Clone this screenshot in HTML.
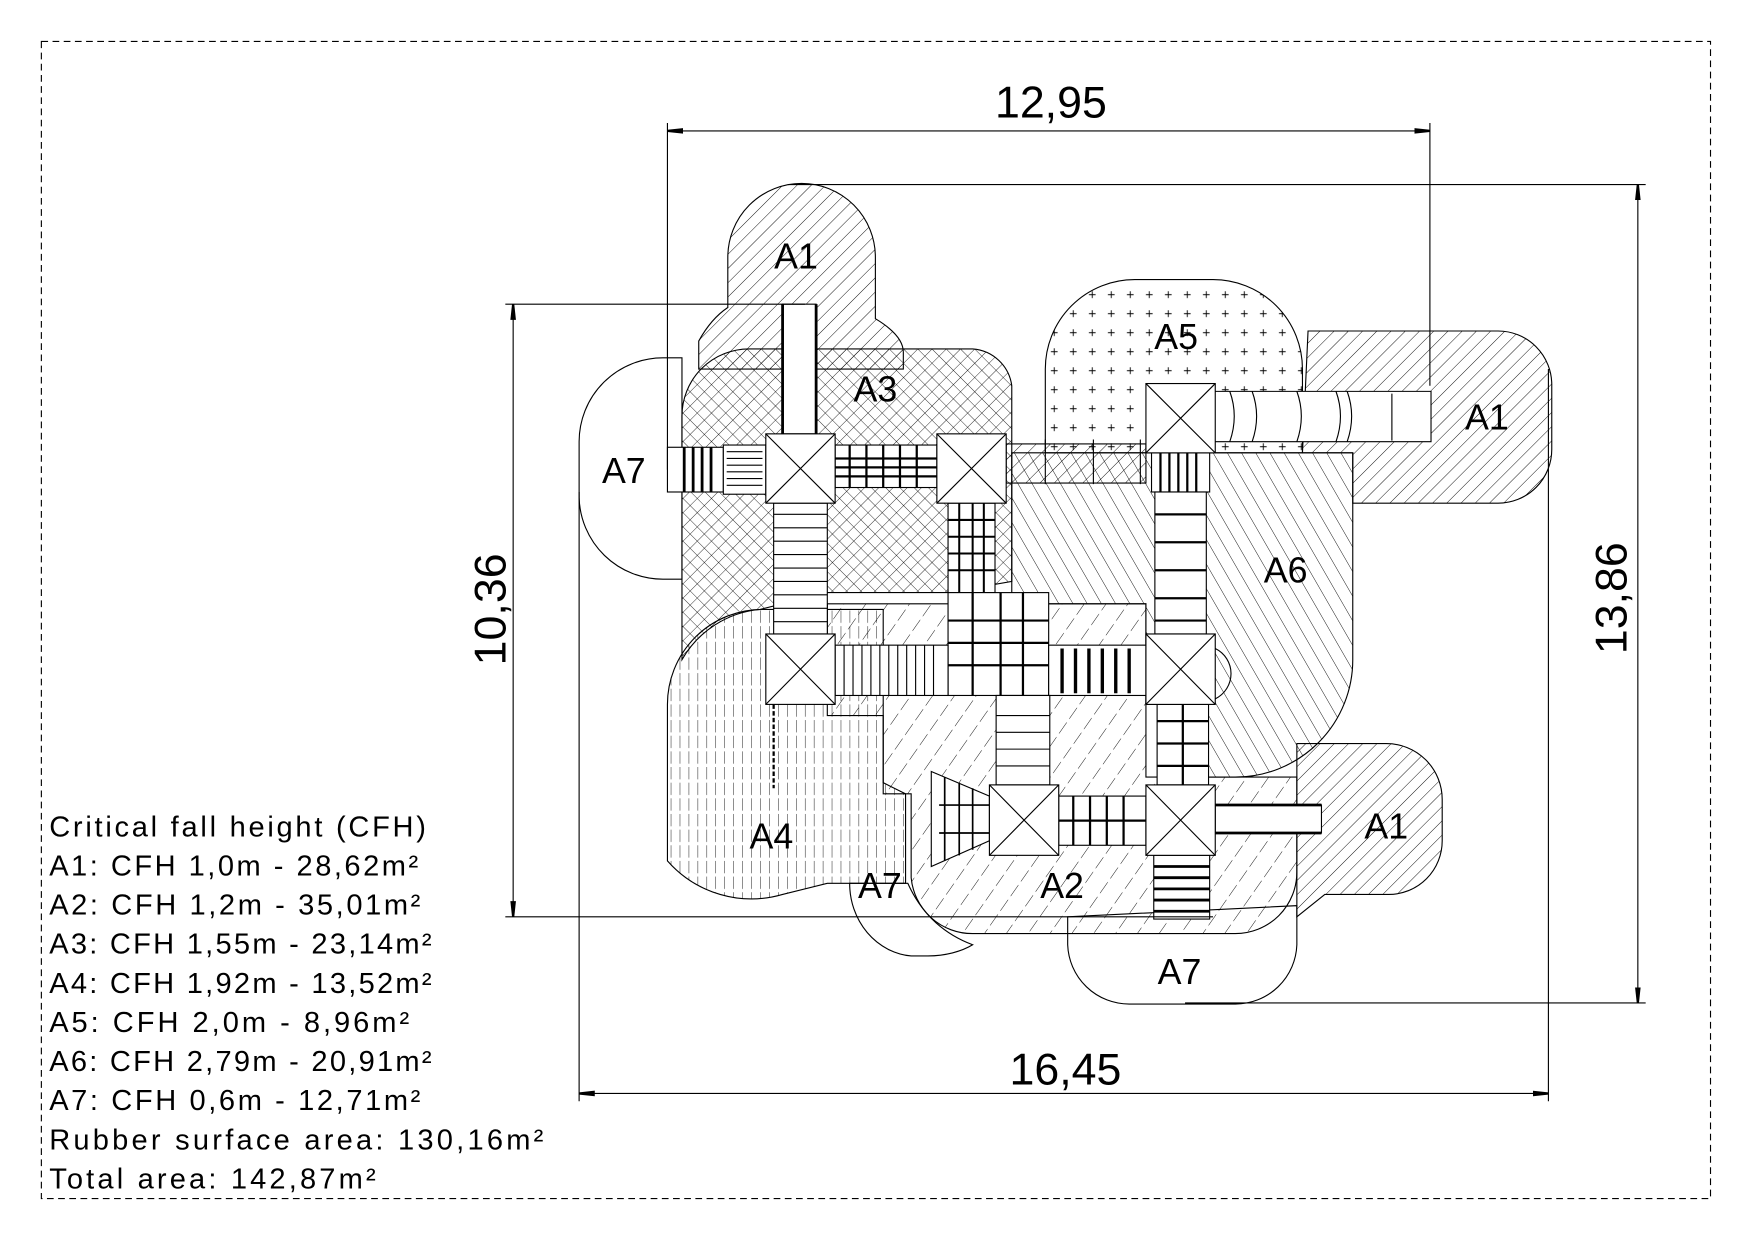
<!DOCTYPE html>
<html><head><meta charset="utf-8"><style>
html,body{margin:0;padding:0;background:#fff}
svg{display:block}
text{font-family:"Liberation Sans",sans-serif;fill:#000}
</style></head><body>
<svg width="1753" height="1240" viewBox="0 0 1568 1109" xmlns="http://www.w3.org/2000/svg">
<defs>
<pattern id="h1" width="9" height="9" patternUnits="userSpaceOnUse" patternTransform="rotate(45)"><line x1="0" y1="0" x2="0" y2="9" stroke="#000" stroke-width="0.8"/></pattern>
<pattern id="h6" width="11" height="11" patternUnits="userSpaceOnUse" patternTransform="rotate(-30)"><line x1="0" y1="0" x2="0" y2="11" stroke="#000" stroke-width="0.8"/></pattern>
<pattern id="h3" width="9" height="9" patternUnits="userSpaceOnUse" patternTransform="rotate(45)"><line x1="0" y1="0" x2="0" y2="9" stroke="#000" stroke-width="0.7"/><line x1="0" y1="0" x2="9" y2="0" stroke="#000" stroke-width="0.7"/></pattern>
<pattern id="h5" width="17" height="17" patternUnits="userSpaceOnUse"><path d="M5,8.5h6M8,5.5v6" stroke="#000" stroke-width="0.8"/></pattern>
<pattern id="h2" width="16" height="16" patternUnits="userSpaceOnUse" patternTransform="rotate(35)"><line x1="0" y1="0" x2="0" y2="16" stroke="#000" stroke-width="0.8" stroke-dasharray="10,4"/></pattern>
<pattern id="h4" width="8" height="14" patternUnits="userSpaceOnUse"><line x1="0" y1="0" x2="0" y2="11" stroke="#000" stroke-width="0.8"/></pattern>
<marker id="ar" markerWidth="14" markerHeight="8" refX="14" refY="4" orient="auto-start-reverse" markerUnits="userSpaceOnUse"><path d="M0,1.5 L14,3 L14,5 L0,6.5Z" fill="#000"/></marker>
</defs>
<rect x="37" y="37" width="1493" height="1035" fill="none" stroke="#000" stroke-width="1" stroke-dasharray="6,4"/>

<!-- A7 regions -->
<path d="M610,320 L593,320 A75,75 0 0 0 518,395 L518,445 A75,75 0 0 0 593,518 L610,518 Z" fill="#fff" stroke="#000"/>
<path d="M760,790 L812,790 Q830,830 870,845 A55,30 0 0 1 830,855 L815,855 A60,65 0 0 1 760,790 Z" fill="#fff" stroke="#000"/>
<path d="M955,820 L1160,810 L1160,845 A55,55 0 0 1 1105,898 L1010,898 A55,55 0 0 1 955,845 Z" fill="#fff" stroke="#000"/>
<!-- A1 -->
<path d="M651,230 A66,66 0 0 1 783,230 L783,285 Q808,300 808,315 L808,330 L625,330 L625,305 Q636,285 651,275 Z" fill="#fff" stroke="#000"/>
<path d="M651,230 A66,66 0 0 1 783,230 L783,285 Q808,300 808,315 L808,330 L625,330 L625,305 Q636,285 651,275 Z" fill="url(#h1)"/>
<path d="M1170,296 L1340,296 A48,48 0 0 1 1388,344 L1388,402 A48,48 0 0 1 1340,450 L1210,450 L1210,405 L1165,405 Z" fill="url(#h1)" stroke="#000"/>
<path d="M1160,665 L1240,665 A50,50 0 0 1 1290,715 L1290,752 A48,48 0 0 1 1242,800 L1185,800 L1160,820 Z" fill="url(#h1)" stroke="#000"/>
<!-- A4 -->
<path d="M597,770 L597,630 A85,85 0 0 1 682,545 L790,545 L790,700 L810,710 L810,790 L740,790 L700,800 A100,100 0 0 1 597,770 Z" fill="url(#h4)" stroke="#000"/>
<!-- A2 -->
<path d="M740,540 L1025,540 L1025,695 L1160,695 L1160,780 A55,55 0 0 1 1105,835 L870,835 A55,55 0 0 1 815,785 L815,710 L790,710 L790,640 L740,640 Z" fill="url(#h2)" stroke="#000"/>
<!-- A6 -->
<path d="M905,405 L1210,405 L1210,590 A105,105 0 0 1 1105,695 L1080,695 L1080,630 L1025,630 L1025,540 L905,540 Z" fill="url(#h6)" stroke="#000"/>
<!-- A3 -->
<path d="M610,540 L610,372 A60,60 0 0 1 670,312 L870,312 A38,38 0 0 1 905,345 L905,520 L848,530 L790,530 L740,530 L680,545 A90,90 0 0 0 610,590 Z" fill="url(#h3)" stroke="#000"/>
<!-- A5 -->
<path d="M935,405 L935,330 A80,80 0 0 1 1015,250 L1085,250 A80,80 0 0 1 1165,330 L1165,405 Z" fill="url(#h5)" stroke="#000"/>

<!-- equipment -->
<g stroke="#000" fill="none" stroke-width="1">
<rect x="597" y="400" width="50" height="40" fill="#fff"/>
<path d="M612,400v40M620,400v40M628,400v40M636,400v40" stroke-width="2.5"/>
<rect x="647" y="398" width="38" height="44" fill="#fff"/>
<path d="M650,404h32M650,410h32M650,416h32M650,422h32M650,428h32M650,434h32"/>
<rect x="747" y="398" width="91" height="38" fill="#fff"/>
<path d="M747,410h91M747,418h91M747,426h91M760,398v38M775,398v38M790,398v38M805,398v38M820,398v38" stroke-width="2"/>
<rect x="900" y="397" width="125" height="35" fill="url(#h1)"/>
<path d="M935,393v40M978,393v40M1020,393v40"/>
<path d="M1087,350 L1280,350 L1280,395 L1087,395" fill="#fff"/>
<path d="M1100,350q8,22 0,45M1120,350q8,22 0,45M1160,350q8,22 0,45M1195,350q8,22 0,45M1205,350q8,22 0,45M1245,352v42"/>
<rect x="700" y="272" width="30" height="116" fill="#fff"/>
<path d="M700,272v116M730,272v116" stroke-width="2.5"/>
<rect x="692" y="450" width="48" height="117" fill="#fff"/>
<path d="M692,460h48M692,472h48M692,484h48M692,496h48M692,508h48M692,520h48M692,532h48M692,544h48M692,556h48"/>
<rect x="848" y="450" width="42" height="80" fill="#fff"/>
<path d="M848,465h42M848,480h42M848,495h42M848,510h42M858,450v80M870,450v80M880,450v80" stroke-width="1.8"/>
<rect x="1030" y="405" width="52" height="35" fill="#fff"/>
<path d="M1038,405v35M1046,405v35M1054,405v35M1062,405v35M1070,405v35" stroke-width="2"/>
<rect x="1033" y="440" width="46" height="127" fill="#fff"/>
<path d="M1033,460h46M1033,485h46M1033,510h46M1033,535h46M1033,555h46" stroke-width="2"/>
<rect x="848" y="530" width="90" height="92" fill="#fff"/>
<path d="M848,555h90M848,575h90M848,595h90M870,530v92M895,530v92M915,530v92" stroke-width="2"/>
<rect x="747" y="577" width="101" height="45" fill="#fff"/>
<path d="M755,577v45M763,577v45M771,577v45M779,577v45M787,577v45M795,577v45M803,577v45M811,577v45M819,577v45M827,577v45M835,577v45"/>
<rect x="938" y="577" width="87" height="45" fill="#fff"/>
<path d="M950,580v40M962,580v40M974,580v40M986,580v40M998,580v40M1010,580v40" stroke-width="3"/>
<rect x="891" y="622" width="48" height="80" fill="#fff"/>
<path d="M891,640h48M891,655h48M891,670h48M891,685h48"/>
<rect x="1035" y="630" width="46" height="72" fill="#fff"/>
<path d="M1035,645h46M1035,665h46M1035,685h46M1058,630v72" stroke-width="2"/>
<rect x="947" y="712" width="78" height="44" fill="#fff"/>
<path d="M947,734h78M960,712v44M975,712v44M990,712v44M1005,712v44" stroke-width="2"/>
<rect x="1087" y="720" width="95" height="25" fill="#fff"/>
<path d="M1087,720h95M1087,745h95" stroke-width="2.5"/>
<rect x="1032" y="765" width="50" height="57" fill="#fff"/>
<path d="M1032,775h50M1032,785h50M1032,795h50M1032,805h50M1032,815h50" stroke-width="2.5"/>
<path d="M833,690 L885,712 L885,752 L833,775 Z" fill="#fff"/>
<path d="M845,695v75M858,700v65M870,705v55M840,720h45M840,745h45" stroke-width="1.5"/>
<path d="M692,630 V705" stroke-dasharray="4,2" stroke-width="2"/>
<path d="M1087,580 A25,25 0 0 1 1087,625"/>
<g fill="#fff">
<rect x="685" y="388" width="62" height="62"/><path d="M685,388L747,450M747,388L685,450"/>
<rect x="838" y="388" width="62" height="62"/><path d="M838,388L900,450M900,388L838,450"/>
<rect x="1025" y="343" width="62" height="62"/><path d="M1025,343L1087,405M1087,343L1025,405"/>
<rect x="685" y="567" width="62" height="63"/><path d="M685,567L747,630M747,567L685,630"/>
<rect x="1025" y="567" width="62" height="63"/><path d="M1025,567L1087,630M1087,567L1025,630"/>
<rect x="885" y="702" width="62" height="63"/><path d="M885,702L947,765M947,702L885,765"/>
<rect x="1025" y="702" width="62" height="63"/><path d="M1025,702L1087,765M1087,702L1025,765"/>
</g>
</g>

<!-- dimension lines -->
<g stroke="#000" stroke-width="1" fill="none">
<path d="M597,110 V420 M1279,110 V345"/>
<path d="M597,117 H1279" marker-start="url(#ar)" marker-end="url(#ar)"/>
<path d="M705,165 H1472 M1060,897 H1472"/>
<path d="M1465,165 V897" marker-start="url(#ar)" marker-end="url(#ar)"/>
<path d="M452,272 H720 M452,820 H1085"/>
<path d="M459,272 V820" marker-start="url(#ar)" marker-end="url(#ar)"/>
<path d="M518,440 V985 M1385,330 V985"/>
<path d="M518,978 H1385" marker-start="url(#ar)" marker-end="url(#ar)"/>
</g>

<text x="940" y="105" font-size="40" text-anchor="middle">12,95</text>
<text x="953" y="970" font-size="40" text-anchor="middle">16,45</text>
<text transform="translate(452,545) rotate(-90)" font-size="40" text-anchor="middle">10,36</text>
<text transform="translate(1455,535) rotate(-90)" font-size="40" text-anchor="middle">13,86</text>

<g font-size="32" text-anchor="middle">
<text x="712" y="240">A1</text>
<text x="783" y="359">A3</text>
<text x="1052" y="312">A5</text>
<text x="1330" y="384">A1</text>
<text x="558" y="432">A7</text>
<text x="1150" y="521">A6</text>
<text x="690" y="759">A4</text>
<text x="787" y="803">A7</text>
<text x="950" y="803">A2</text>
<text x="1240" y="750">A1</text>
<text x="1055" y="880">A7</text>
</g>

<g font-size="26" lengthAdjust="spacingAndGlyphs">
<text x="44" y="748" textLength="337">Critical fall height (CFH)</text>
<text x="44" y="783" textLength="330">A1: CFH 1,0m - 28,62m²</text>
<text x="44" y="818" textLength="332">A2: CFH 1,2m - 35,01m²</text>
<text x="44" y="853" textLength="342">A3: CFH 1,55m - 23,14m²</text>
<text x="44" y="888" textLength="342">A4: CFH 1,92m - 13,52m²</text>
<text x="44" y="923" textLength="322">A5: CFH 2,0m - 8,96m²</text>
<text x="44" y="958" textLength="342">A6: CFH 2,79m - 20,91m²</text>
<text x="44" y="993" textLength="332">A7: CFH 0,6m - 12,71m²</text>
<text x="44" y="1028" textLength="442">Rubber surface area: 130,16m²</text>
<text x="44" y="1063" textLength="292">Total area: 142,87m²</text>
</g>
</svg>
</body></html>
